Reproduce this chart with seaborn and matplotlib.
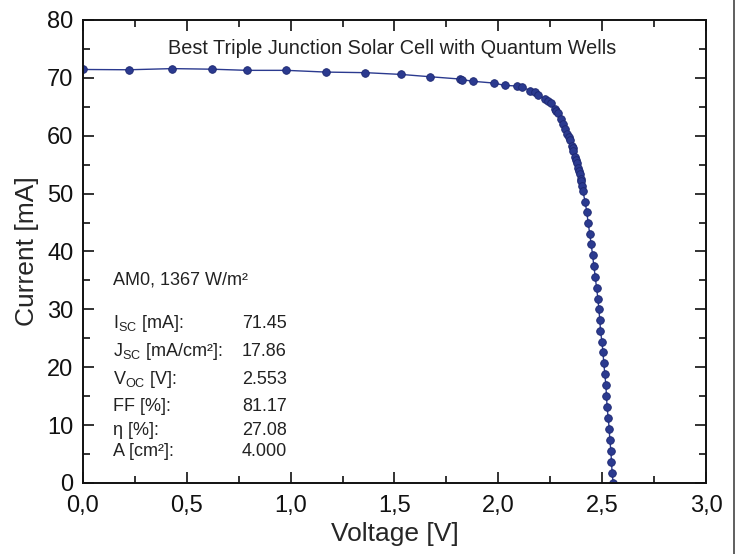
import matplotlib
matplotlib.use("Agg")
import matplotlib.pyplot as plt
import seaborn as sns
import pandas as pd
from matplotlib.ticker import MultipleLocator, FixedLocator, FixedFormatter
from matplotlib.lines import Line2D

# ---- data ----
voltage = [0.00, 0.22, 0.43, 0.62, 0.79, 0.98, 1.17, 1.36, 1.53, 1.67, 1.815, 1.825, 1.88, 1.98,
           2.03, 2.088, 2.112, 2.155, 2.176, 2.19, 2.227, 2.239, 2.253, 2.271, 2.28, 2.288, 2.303,
           2.312, 2.323, 2.333, 2.341, 2.346, 2.354, 2.358, 2.362, 2.37, 2.375, 2.378, 2.385, 2.388,
           2.391, 2.396, 2.399, 2.403, 2.407, 2.418, 2.426, 2.433, 2.44, 2.447, 2.454, 2.46, 2.467,
           2.473, 2.48, 2.484, 2.489, 2.492, 2.499, 2.504, 2.508, 2.513, 2.518, 2.521, 2.524, 2.529,
           2.534, 2.537, 2.542, 2.545, 2.548, 2.553]
current = [71.45, 71.4, 71.6, 71.5, 71.3, 71.3, 71.0, 70.9, 70.6, 70.2, 69.8, 69.7, 69.4, 69.1,
           68.7, 68.6, 68.4, 67.8, 67.5, 67.1, 66.3, 66.0, 65.6, 64.7, 64.3, 63.9, 62.9,
           62.1, 61.1, 60.3, 59.7, 59.2, 58.3, 57.8, 57.3, 56.3, 55.8, 55.3, 54.4, 53.9,
           53.4, 52.5, 52.1, 51.3, 50.5, 48.6, 46.8, 44.9, 43.1, 41.3, 39.4, 37.5, 35.6,
           33.7, 31.8, 30.0, 28.2, 26.3, 24.4, 22.6, 20.7, 18.8, 16.9, 15.0, 13.1, 11.3,
           9.4, 7.5, 5.6, 3.7, 1.8, 0.0]
x_ticks = [0.0, 0.5, 1.0, 1.5, 2.0, 2.5, 3.0]
x_tick_labels = ["0,0", "0,5", "1,0", "1,5", "2,0", "2,5", "3,0"]
y_ticks = [0, 10, 20, 30, 40, 50, 60, 70, 80]
param_names = [r"I$_{\mathregular{SC}}$ [mA]:", r"J$_{\mathregular{SC}}$ [mA/cm²]:",
               r"V$_{\mathregular{OC}}$ [V]:", "FF [%]:", "η [%]:", "A [cm²]:"]
param_values = ["71.45", "17.86", "2.553", "81.17", "27.08", "4.000"]
title_text = "Best Triple Junction Solar Cell with Quantum Wells"
condition_text = "AM0, 1367 W/m²"

sns.set_theme(style="ticks")
plt.rcParams['font.family'] = ['Liberation Sans', 'DejaVu Sans']
plt.rcParams['mathtext.fontset'] = 'custom'
plt.rcParams['mathtext.rm'] = 'Liberation Sans'
plt.rcParams['mathtext.it'] = 'Liberation Sans'

fig = plt.figure(figsize=(7.39, 5.54), dpi=100)
ax = fig.add_axes([0.1123, 0.1282, 0.8430, 0.8357])

df = pd.DataFrame({"V": voltage, "I": current})
navy = "#2b3a8f"
sns.lineplot(data=df, x="V", y="I", sort=False, ax=ax, color=navy, linewidth=1.0,
             marker="o", markersize=5.5, markeredgecolor="#1c2770", markeredgewidth=0.6)

ax.set_xlim(0, 3.0)
ax.set_ylim(0, 80)
ax.xaxis.set_major_locator(FixedLocator(x_ticks))
ax.xaxis.set_major_formatter(FixedFormatter(x_tick_labels))
ax.xaxis.set_minor_locator(MultipleLocator(0.25))
ax.yaxis.set_major_locator(FixedLocator(y_ticks))
ax.yaxis.set_minor_locator(MultipleLocator(5))
ax.tick_params(which="both", direction="in", top=True, right=True, colors="#111111",
               labelsize=17, width=1.2)
ax.tick_params(axis="x", which="both", pad=9)
ax.tick_params(axis="y", which="both", pad=7)
ax.tick_params(which="major", length=8)
ax.tick_params(which="minor", length=5)
for s in ax.spines.values():
    s.set_linewidth(1.4)
    s.set_color("#111111")
    s.set_visible(True)

ax.set_xlabel("Voltage [V]", fontsize=19, labelpad=3)
ax.set_ylabel("Current [mA]", fontsize=19, labelpad=6)

ax.text(1.49, 75.0, title_text, ha="center", va="center", fontsize=14.3, color="#222222")
ax.text(0.145, 35.1, condition_text, ha="left", va="center", fontsize=13, color="#222222")
row_y = [27.5, 22.7, 17.9, 13.2, 9.15, 5.4]
for name, val, yy in zip(param_names, param_values, row_y):
    ax.text(0.145, yy, name, ha="left", va="center", fontsize=13, color="#222222")
    ax.text(0.765, yy, val, ha="left", va="center", fontsize=13, color="#222222")

fig.add_artist(Line2D([0.9935, 0.9935], [0, 1], transform=fig.transFigure,
                      color="#444444", linewidth=1.2))

fig.savefig("out.png", dpi=100)
